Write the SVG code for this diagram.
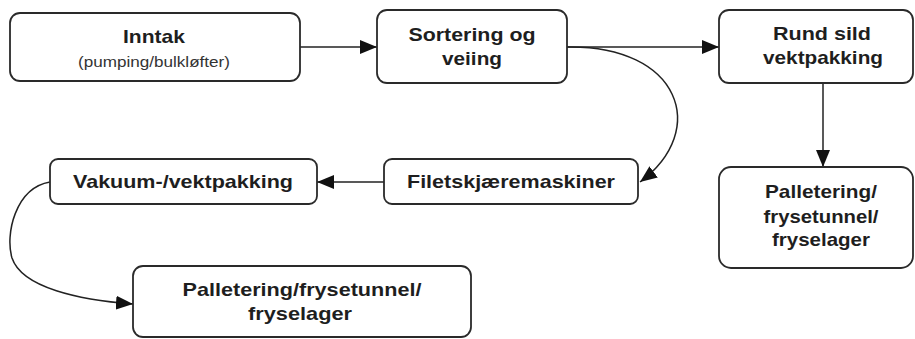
<svg xmlns="http://www.w3.org/2000/svg" width="915" height="339" viewBox="0 0 915 339">
<defs>
<style>
.box{fill:#fff;stroke:#2a2a2a;stroke-width:1.8}
.t{font-family:"Liberation Sans",Arial,sans-serif;font-weight:bold;font-size:18.5px;fill:#1e1e1e;text-anchor:middle}
.s{font-family:"Liberation Sans",Arial,sans-serif;font-size:14.5px;fill:#333;text-anchor:middle}
.c{fill:none;stroke:#222;stroke-width:1.5}
</style>
<marker id="ah" markerWidth="17" markerHeight="14" refX="17" refY="7" orient="auto" markerUnits="userSpaceOnUse">
<path d="M0,0 L17,7 L0,14 Z" fill="#111"/>
</marker>
</defs>
<rect width="915" height="339" fill="#fff"/>
<g id="connectors">
<path class="c" d="M300,47 L377,47" marker-end="url(#ah)"/>
<path class="c" d="M567,47 L719,47" marker-end="url(#ah)"/>
<path class="c" d="M567,47 C680,45 710,130 640,182" marker-end="url(#ah)"/>
<path class="c" d="M385,182 L317,182" marker-end="url(#ah)"/>
<path class="c" d="M823,83 L823,167" marker-end="url(#ah)"/>
<path class="c" d="M50,182 C15,188 5,235 12,258 C22,288 80,300 133,304" marker-end="url(#ah)"/>
</g>
<g id="inntak">
<rect class="box" x="10" y="13" width="290" height="68" rx="10"/>
<text class="t" x="154" y="43" textLength="62" lengthAdjust="spacingAndGlyphs">Inntak</text>
<text class="s" x="154" y="67" textLength="152" lengthAdjust="spacingAndGlyphs">(pumping/bulkløfter)</text>
</g>
<g id="sortering">
<rect class="box" x="377" y="10" width="190" height="73" rx="10"/>
<text class="t" x="472" y="41" textLength="127" lengthAdjust="spacingAndGlyphs">Sortering og</text>
<text class="t" x="472" y="65" textLength="60" lengthAdjust="spacingAndGlyphs">veiing</text>
</g>
<g id="rundsild">
<rect class="box" x="719" y="10" width="194" height="73" rx="10"/>
<text class="t" x="822" y="40" textLength="98" lengthAdjust="spacingAndGlyphs">Rund sild</text>
<text class="t" x="823" y="64" textLength="120" lengthAdjust="spacingAndGlyphs">vektpakking</text>
</g>
<g id="filet">
<rect class="box" x="384" y="159" width="254" height="45" rx="8"/>
<text class="t" x="511" y="188" textLength="208" lengthAdjust="spacingAndGlyphs">Filetskjæremaskiner</text>
</g>
<g id="vakuum">
<rect class="box" x="50" y="159" width="267" height="45" rx="8"/>
<text class="t" x="183" y="188" textLength="220" lengthAdjust="spacingAndGlyphs">Vakuum-/vektpakking</text>
</g>
<g id="pall-left">
<rect class="box" x="133" y="266" width="338" height="71" rx="10"/>
<text class="t" x="302" y="296" textLength="239" lengthAdjust="spacingAndGlyphs">Palletering/frysetunnel/</text>
<text class="t" x="300" y="320" textLength="104" lengthAdjust="spacingAndGlyphs">fryselager</text>
</g>
<g id="pall-right">
<rect class="box" x="719" y="167" width="194" height="101" rx="12"/>
<text class="t" x="821" y="198" textLength="112" lengthAdjust="spacingAndGlyphs">Palletering/</text>
<text class="t" x="821" y="223" textLength="115" lengthAdjust="spacingAndGlyphs">frysetunnel/</text>
<text class="t" x="821" y="246" textLength="98" lengthAdjust="spacingAndGlyphs">fryselager</text>
</g>
</svg>
